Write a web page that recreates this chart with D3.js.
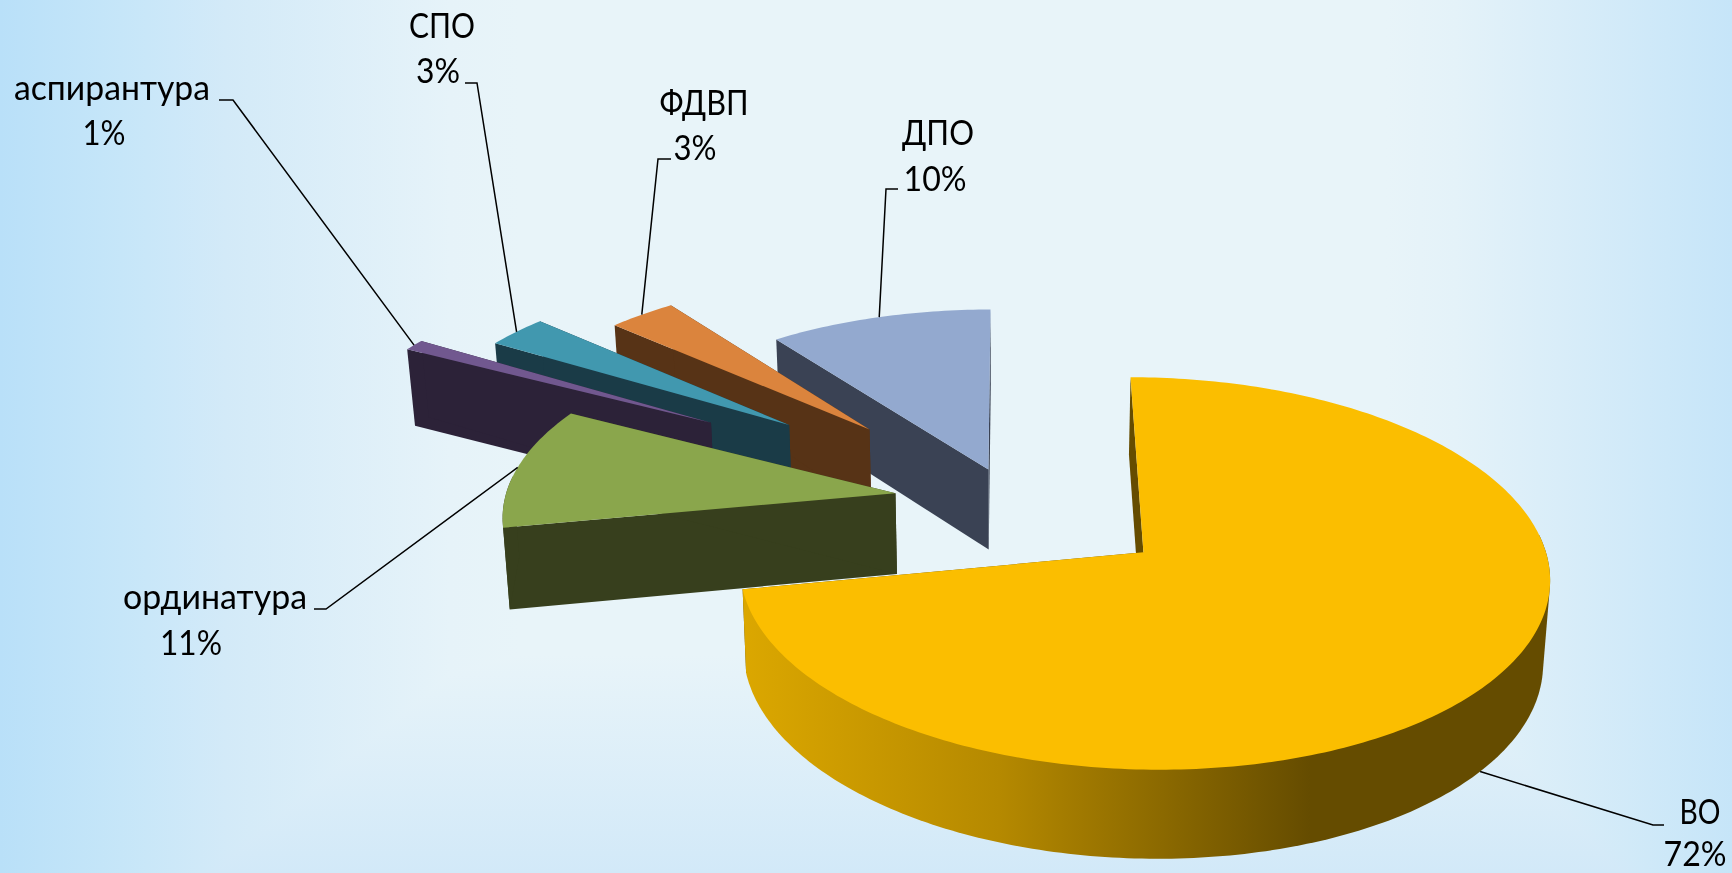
<!DOCTYPE html>
<html>
<head>
<meta charset="utf-8">
<script src="https://cdn.jsdelivr.net/npm/d3@7"></script>
<style>
  html, body { margin: 0; padding: 0; background: #e8f4f9; }
  svg { display: block; }
  .label { font-family: Lato, "Noto Sans", sans-serif; font-size: 35px; fill: #000; text-anchor: middle; }
  .leader { fill: none; stroke: #000; stroke-width: 1.5; }
</style>
</head>
<body>
<div id="chart"></div>
<script>
// Chart data
let categories = ["ВО", "ординатура", "аспирантура", "СПО", "ФДВП", "ДПО"];
let shares = [72, 10.6, 1, 2.9, 3.2, 10.3];

// Styling, same order as the categories
let topColors = ["#fbbe00", "#8aa64c", "#71588f", "#4198af", "#db843d", "#93a9cf"];
let sideColors = ["#654c00", "#373f1d", "#2c2238", "#1a3b47", "#573316", "#3a4254"];
let explode = [0.427, 0.3, 0.92, 0.735, 0.555, 0.185];
// label centre and baseline of both lines, width of both lines, leader start and knee
let labelLayout = [
  { x: 1700, y: 824, w: 41, x2: 1695, y2: 866, w2: 63, from: [1664, 825], knee: [1653, 825] },
  { x: 215, y: 609, w: 184, x2: 191, y2: 655, w2: 62, from: [314, 609], knee: [326, 609] },
  { x: 112, y: 100, w: 196, x2: 104, y2: 145, w2: 43, from: [219, 100], knee: [233, 100] },
  { x: 442, y: 38, w: 66, x2: 438, y2: 83, w2: 44, from: [465, 83], knee: [477, 83] },
  { x: 704, y: 115, w: 89, x2: 695, y2: 160, w2: 43, from: [671, 159], knee: [658, 159] },
  { x: 938, y: 145, w: 72, x2: 935, y2: 191, w2: 63, from: [898, 189], knee: [886, 189] }
];

let width = 1732;
let height = 873;

/////////////////////////////////
//// Projection of the discs ////
/////////////////////////////////

let center = { x: 1011, y: 501 };
let radiusX = 391;
let radiusY = 183;
let perspective = 0.105;
let depth = 81;

// disc coordinates (x right, y toward the viewer) to the page, level 0 = top face, 1 = bottom face
function project(px, py, level) {
  let s = 1 / (1 - perspective * py);
  let sx = level ? 0.987 : 1;
  let sy = level ? 1.03 : 1;
  return [
    center.x + radiusX * px * s * sx,
    center.y + radiusY * py * s * sy + (level ? depth : 0)
  ];
}

let pie = d3.pie().sort(null).value(d => d);
let slices = pie(shares);
let line = d3.line();

function discPoint(d, i, angle) {
  let mid = (d.startAngle + d.endAngle) / 2;
  let e = explode[i];
  return [e * Math.sin(mid) + Math.sin(angle), -e * Math.cos(mid) - Math.cos(angle)];
}

function apex(d, i) {
  let mid = (d.startAngle + d.endAngle) / 2;
  return [explode[i] * Math.sin(mid), -explode[i] * Math.cos(mid)];
}

function arcAngles(d) {
  let n = Math.max(4, Math.ceil((d.endAngle - d.startAngle) * 60));
  return d3.range(n + 1).map(k => d.startAngle + (d.endAngle - d.startAngle) * k / n);
}

function arcPoints(d, i, angles, level) {
  return angles.map(a => {
    let p = discPoint(d, i, a);
    return project(p[0], p[1], level);
  });
}

//////////////////////////
/// Building the chart ///
//////////////////////////

let svg = d3.select("#chart")
  .append("svg")
  .attr("width", width)
  .attr("height", height);

let defs = svg.append("defs");

// Background: the horizontal and vertical ramps darken each other, which gives the rectangular fade
let bg = defs.append("linearGradient").attr("id", "bg");
[[0, "#b9e0fa"], [0.07, "#c6e6fa"], [0.13, "#d3eaf8"], [0.26, "#e6f3f9"], [0.3, "#e8f4f9"],
 [0.8, "#e8f4f9"], [0.84, "#e4f2f9"], [1, "#c6e5f9"]].forEach(s => {
  bg.append("stop").attr("offset", s[0]).attr("stop-color", s[1]);
});

let bgBottom = defs.append("linearGradient")
  .attr("id", "bg-bottom").attr("x1", 0).attr("x2", 0).attr("y1", 0).attr("y2", 1);
bgBottom.append("stop").attr("offset", 0.75).attr("stop-color", "#e8f4f9");
bgBottom.append("stop").attr("offset", 1).attr("stop-color", "#d2e9f8");

let goldSide = defs.append("linearGradient")
  .attr("id", "gold-side")
  .attr("gradientUnits", "userSpaceOnUse")
  .attr("x1", 745).attr("x2", 1310).attr("y1", 0).attr("y2", 0);
[[0, "#dba700"], [0.45, "#b58900"], [1, "#654c00"]].forEach(s => {
  goldSide.append("stop").attr("offset", s[0]).attr("stop-color", s[1]);
});

svg.append("rect").attr("width", width).attr("height", height).attr("fill", "url(#bg)");
svg.append("rect").attr("width", width).attr("height", height).attr("fill", "url(#bg-bottom)")
  .style("mix-blend-mode", "darken");

let chart = svg.append("g").attr("class", "chart");

// Rear slices first, the big one last
let drawOrder = [5, 4, 3, 2, 1, 0];

drawOrder.forEach(i => {
  let d = slices[i];
  let g = chart.append("g").attr("class", "slice");
  let a = apex(d, i);
  let angles = arcAngles(d);
  let topArc = arcPoints(d, i, angles, 0);
  let bottomArc = arcPoints(d, i, angles, 1);
  let topApex = project(a[0], a[1], 0);
  let bottomApex = project(a[0], a[1], 1);

  // Flat cut faces
  g.append("path")
    .attr("fill", sideColors[i])
    .attr("d", line([topApex, topArc[0], bottomArc[0], bottomApex]) + "Z");
  g.append("path")
    .attr("fill", sideColors[i])
    .attr("d", line([topApex, topArc[topArc.length - 1], bottomArc[bottomArc.length - 1], bottomApex]) + "Z");

  // Rounded outer wall, only the part of the arc that faces the viewer
  let front = angles.filter(t => Math.cos(t) < 0.1);
  if (front.length > 1) {
    let hull = d3.polygonHull(arcPoints(d, i, front, 0).concat(arcPoints(d, i, front, 1)));
    g.append("path")
      .attr("fill", i === 0 ? "url(#gold-side)" : sideColors[i])
      .attr("d", line(hull) + "Z");
  }

  // Top face
  g.append("path")
    .attr("fill", topColors[i])
    .attr("d", line([topApex].concat(topArc)) + "Z");
});

// Leaders and labels
slices.forEach((d, i) => {
  let l = labelLayout[i];
  let mid = (d.startAngle + d.endAngle) / 2;
  let p = discPoint(d, i, mid);
  let end = project(p[0], p[1], i === 0 ? 1 : 0);

  svg.append("path")
    .attr("class", "leader")
    .attr("d", line([l.from, l.knee, end]));

  svg.append("text").attr("class", "label")
    .attr("x", l.x).attr("y", l.y)
    .attr("textLength", l.w).attr("lengthAdjust", "spacingAndGlyphs")
    .text(categories[i]);
  svg.append("text").attr("class", "label")
    .attr("x", l.x2).attr("y", l.y2)
    .attr("textLength", l.w2).attr("lengthAdjust", "spacingAndGlyphs")
    .text(Math.round(shares[i]) + "%");
});
</script>
</body>
</html>
